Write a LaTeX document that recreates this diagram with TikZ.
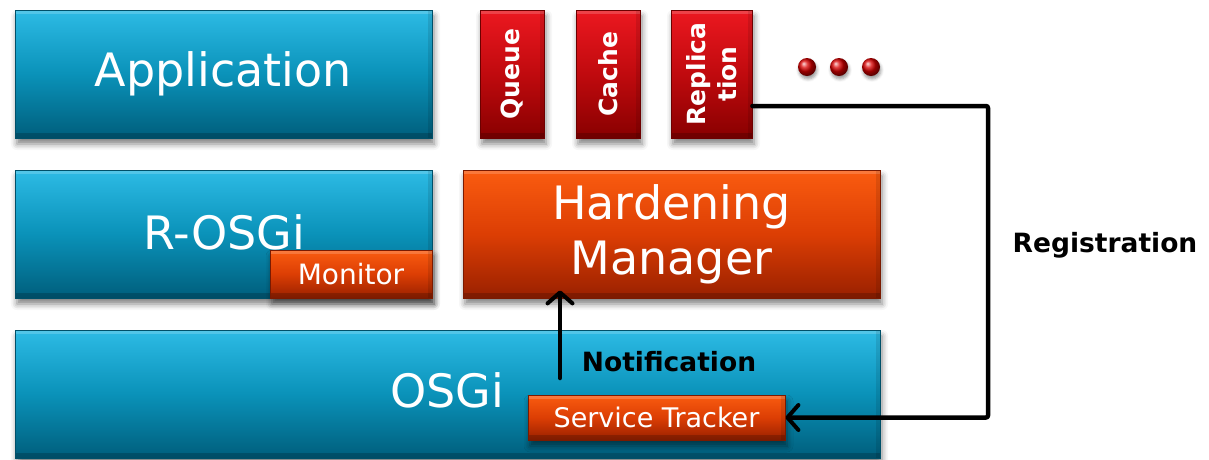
\documentclass[tikz,border=0pt]{standalone}
\usepackage{fontspec}
\setmainfont{DejaVu Sans}
\usetikzlibrary{shadows.blur,arrows.meta}

\definecolor{bluetop}{HTML}{2DBBE5}
\definecolor{bluemid}{HTML}{0A92B9}
\definecolor{bluebot}{HTML}{005E7C}
\definecolor{redtop}{HTML}{EC1820}
\definecolor{redmid}{HTML}{C00A0E}
\definecolor{redbot}{HTML}{880000}
\definecolor{orgtop}{HTML}{FA5C10}
\definecolor{orgmid}{HTML}{DC3E04}
\definecolor{orgbot}{HTML}{992000}

\tikzset{
  bevel/.style={path picture={
    \fill[white, opacity=0.18] (path picture bounding box.north west)
      rectangle ([yshift=-4pt]path picture bounding box.north east);
    \fill[black, opacity=0.18] (path picture bounding box.south west)
      rectangle ([yshift=5pt]path picture bounding box.south east);
    \fill[black, opacity=0.10] (path picture bounding box.south east)
      rectangle ([xshift=-4pt]path picture bounding box.north east);
  }},
  layer/.style={rectangle, inner sep=0pt, text=white, line width=0.8pt, bevel,
    blur shadow={shadow xshift=2pt, shadow yshift=-6pt,
                 shadow blur radius=6pt, shadow opacity=50}},
  bluebox/.style={layer, top color=bluetop, bottom color=bluebot,
    middle color=bluemid, draw=bluebot!85!black},
  redbox/.style={layer, top color=redtop, bottom color=redbot,
    middle color=redmid, draw=redbot!80!black},
  orangebox/.style={layer, top color=orgtop, bottom color=orgbot,
    middle color=orgmid, draw=orgbot!80!black},
  bigtext/.style={font=\fontsize{46}{55}\selectfont},
  midtext/.style={font=\fontsize{28}{32}\selectfont},
  sidetext/.style={font=\bfseries\fontsize{25}{31}\selectfont, rotate=90, align=center, text=white},
  labeltext/.style={font=\bfseries\fontsize{26.5}{30}\selectfont, text=black},
  link/.style={line width=4.5pt, line cap=round, line join=round},
  tip/.style={-{Straight Barb[length=11pt, width=25pt, line width=4pt, round]}},
  dot/.style={circle, inner sep=0pt, minimum size=18pt, ball color=red!85!black,
    blur shadow={shadow xshift=1pt, shadow yshift=-3pt, shadow blur radius=3pt, shadow opacity=40}}
}

\begin{document}
\begin{tikzpicture}[x=1pt, y=-1pt]
  \useasboundingbox (0,0) rectangle (1209,459);

  % top row: application and hardening services
  \node[bluebox, bigtext, minimum width=417pt, minimum height=128pt] (app) at (223.5,74) {Application};
  \node[redbox, minimum width=64pt, minimum height=128pt] (queue) at (512,74) {};
  \node[sidetext] (queuet) at (queue.center) {Queue};
  \node[redbox, minimum width=64pt, minimum height=128pt] (cache) at (608,74) {};
  \node[sidetext] (cachet) at (cache.center) {Cache};
  \node[redbox, minimum width=81pt, minimum height=128pt] (rep) at (711.5,74) {};
  \node[sidetext] (rept) at (rep.center) {Replica\\tion};
  \node[dot] (d1) at (807,67) {};
  \node[dot] (d2) at (839,67) {};
  \node[dot] (d3) at (871,67) {};

  % middle row
  \node[bluebox, minimum width=417pt, minimum height=128pt] (rosgi) at (223.5,234) {};
  \node[bigtext, text=white] (rosgit) at (224,232) {R-OSGi};
  \node[orangebox, midtext, minimum width=162pt, minimum height=48pt] (monitor) at (351,274) {Monitor};
  \node[orangebox, bigtext, align=center, minimum width=417pt, minimum height=128pt] (hm) at (671.5,234) {Hardening\\Manager};

  % bottom row
  \node[bluebox, minimum width=865pt, minimum height=128pt] (osgi) at (447.5,394) {};
  \node[bigtext, text=white] (osgit) at (447,390) {OSGi};
  \node[orangebox, font=\fontsize{27}{30}\selectfont, minimum width=257pt, minimum height=45pt] (st) at (656.5,417.5) {Service Tracker};

  % connectors
  \coordinate (nstart) at (560,378);
  \draw[link, tip] (nstart) -- ([yshift=8pt]hm.south -| nstart);
  \node[labeltext] (notif) at (669,362) {Notification};

  \coordinate (regtop) at (988,106);
  \draw[link, tip, rounded corners=2pt] ([yshift=-32pt]rep.east) -- (regtop) |- (st.east);
  \node[labeltext] (reg) at (1105,245) {Registration};
\end{tikzpicture}
\end{document}
